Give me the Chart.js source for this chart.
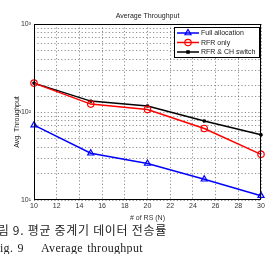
<!DOCTYPE html>
<html>
<head>
<meta charset="utf-8">
<script src="https://cdn.jsdelivr.net/npm/chart.js@4"></script>
<style>
  body { margin: 0; background: #fff; width: 269px; height: 254px; overflow: hidden; position: relative; }
  #wrap { position: absolute; left: 0; top: 0; width: 269px; height: 222px; }
  .cap { position: absolute; white-space: nowrap; color: #222; }
  #cap1 { left: -14px; top: 221px; font: 12px "Noto Sans CJK KR"; letter-spacing: 0.7px; }
  #cap2 { left: -7px; top: 241px; font: 12px "Liberation Serif"; letter-spacing: 0.3px; word-spacing: 1px; }
</style>
</head>
<body>
<div id="wrap"><canvas id="chart" width="269" height="222"></canvas></div>
<div class="cap" id="cap1">그림 9. 평균 중계기 데이터 전송률</div>
<div class="cap" id="cap2">Fig. 9&nbsp;&nbsp;&nbsp;&nbsp;Average throughput</div>
<script>
// x values: number of relay stations
const rsCount = [10, 15, 20, 25, 30];
// average throughput per scheme (log axis)
const fullAllocation = [71, 34, 26, 17.2, 11.2];
const rfrOnly = [213, 123, 107, 65, 33];
const rfrChSwitch = [213, 133, 117, 79, 55];
const seriesNames = ['Full allocation', 'RFR only', 'RFR & CH switch'];
const xTicks = [10, 12, 14, 16, 18, 20, 22, 24, 26, 28, 30];
const yDecades = { 10: '10\u00B9', 100: '10\u00B2', 1000: '10\u00B3' };

const font = { family: 'Liberation Sans, Arial', size: 7 };

// title, y-axis title, frame and boxed legend
const decorations = {
    id: 'decorations',
    afterDraw(chart) {
        const { ctx, chartArea: a } = chart;
        ctx.save();
        ctx.fillStyle = '#222';
        ctx.font = '7px Liberation Sans, Arial';
        ctx.textAlign = 'center';
        ctx.textBaseline = 'middle';
        ctx.fillText('Average Throughput', (a.left + a.right) / 2, 16);
        ctx.save();
        ctx.translate(17, (a.top + a.bottom) / 2 + 10);
        ctx.rotate(-Math.PI / 2);
        ctx.fillText('Avg. Throughput', 0, 0);
        ctx.restore();
        ctx.strokeStyle = '#000';
        ctx.lineWidth = 1;
        ctx.strokeRect(a.left + 0.5, a.top + 0.5, a.right - a.left - 1, a.bottom - a.top - 1);

        // legend box
        const bx = 174, by = 27, bw = 85, bh = 30;
        ctx.fillStyle = '#fff';
        ctx.fillRect(bx, by, bw, bh);
        ctx.strokeRect(bx + 0.5, by + 0.5, bw, bh);
        ctx.textAlign = 'left';
        ctx.font = '7px Liberation Sans, Arial';
        chart.data.datasets.forEach((ds, i) => {
            const y = by + 6 + i * 9.5;
            ctx.strokeStyle = ds.borderColor;
            ctx.lineWidth = 1.5;
            ctx.beginPath();
            ctx.moveTo(bx + 3, y);
            ctx.lineTo(bx + 25, y);
            ctx.stroke();
            ctx.fillStyle = ds.backgroundColor;
            ctx.lineWidth = 1.2;
            Chart.helpers.drawPoint(ctx, {
                pointStyle: ds.pointStyle, radius: ds.pointRadius, borderWidth: 1.2
            }, bx + 14, y);
            ctx.fillStyle = '#222';
            ctx.fillText(ds.label, bx + 27, y + 0.5);
        });
        ctx.restore();
    }
};

const gridOpts = { color: '#444', lineWidth: 0.6, drawTicks: false };
const borderOpts = { display: false, dash: [1.2, 2.2] };

new Chart(document.getElementById('chart'), {
    type: 'line',
    data: {
        labels: rsCount,
        datasets: [
            {
                label: seriesNames[0],
                data: rsCount.map((x, i) => ({ x, y: fullAllocation[i] })),
                borderColor: '#0000ff', backgroundColor: 'rgba(0,0,0,0)',
                borderWidth: 1.5, pointStyle: 'triangle', pointRadius: 3.5,
                pointBorderWidth: 1.2
            },
            {
                label: seriesNames[1],
                data: rsCount.map((x, i) => ({ x, y: rfrOnly[i] })),
                borderColor: '#ff0000', backgroundColor: 'rgba(0,0,0,0)',
                borderWidth: 1.5, pointStyle: 'circle', pointRadius: 3.2,
                pointBorderWidth: 1.2
            },
            {
                label: seriesNames[2],
                data: rsCount.map((x, i) => ({ x, y: rfrChSwitch[i] })),
                borderColor: '#000000', backgroundColor: '#000000',
                borderWidth: 1.5, pointStyle: 'rect', pointRadius: 1.6,
                pointBorderWidth: 1
            }
        ]
    },
    options: {
        responsive: false,
        animation: false,
        clip: false,
        layout: { padding: { top: 24, right: 8, left: 0, bottom: 0 } },
        plugins: { legend: { display: false }, tooltip: { enabled: false } },
        scales: {
            x: {
                type: 'linear', min: 10, max: 30,
                afterBuildTicks: s => { s.ticks = xTicks.map(v => ({ value: v })); },
                afterFit: s => { s.height = 22; },
                grid: gridOpts,
                border: borderOpts,
                ticks: { color: '#333', font, padding: 2, maxRotation: 0 },
                title: { display: true, text: '# of RS (N)', color: '#333', font, padding: 0 }
            },
            y: {
                type: 'logarithmic', min: 10, max: 1000,
                afterFit: s => { s.width = 34; },
                grid: gridOpts,
                border: borderOpts,
                ticks: {
                    color: '#333', font, padding: 3, autoSkip: false,
                    callback: v => yDecades[v] || ''
                }
            }
        }
    },
    plugins: [decorations]
});
</script>
</body>
</html>
